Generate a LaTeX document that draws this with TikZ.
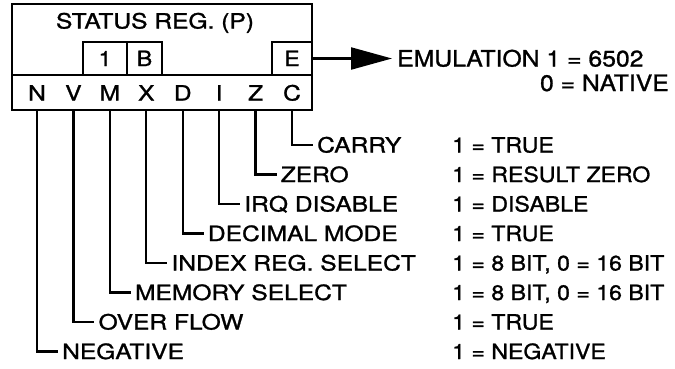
\documentclass[tikz,border=0pt]{standalone}
\usepackage{fontspec}
\setmainfont[FakeStretch=1.1,FakeBold=1.2]{TeX Gyre Heros}
\newfontfamily\labfont[FakeStretch=1.17,FakeBold=1.2]{TeX Gyre Heros}
\usetikzlibrary{arrows.meta}
\begin{document}
\begin{tikzpicture}[x=1pt,y=-1pt,
  boxline/.style={draw, line width=2.6pt},
  lead/.style={draw, line width=2.2pt},
  txt/.style={inner sep=0pt, font=\fontsize{21}{25}\selectfont, text height=15pt, text depth=0pt},
  lab/.style={txt, anchor=west},
  flab/.style={lab, font=\labfont\fontsize{21}{25}\selectfont},
  cell/.style={boxline, txt, minimum height=33pt},
]
\useasboundingbox (0,0) rectangle (675,368);
% outer register box
\draw[boxline] (12,4) rectangle (312,110);
\draw[boxline] (12,75) -- (312,75);
\coordinate (bot) at (0,110);
% title
\node[txt, font=\labfont\fontsize{21}{25}\selectfont] (title) at (155,21) {STATUS REG. (P)};
% upper cells
\node[cell, minimum width=44pt] (one) at (105,58.5) {1};
\node[cell, minimum width=35pt] (bb) at (144.5,58.5) {B};
\node[cell, minimum width=40pt] (ee) at (292,58.5) {E};
% bit letters
\foreach \n/\l [count=\i from 0] in {bN/N,bV/V,bM/M,bX/X,bD/D,bI/I,bZ/Z,bC/C}
  \node[txt, font=\labfont\fontsize{21}{25}\selectfont] (\n) at ({37+36.43*\i},93) {\l};
% emulation
\node[txt, anchor=west, font=\fontsize{22.5}{26}\selectfont, text height=16pt] (emu) at (397,58.5) {EMULATION 1 = 6502};
\node[txt, anchor=east, font=\fontsize{22.5}{26}\selectfont, text height=16pt] (nat) at (669,83) {0 = NATIVE};
\draw[lead, -{Triangle[length=41pt,width=22pt]}, shorten >=5pt] (ee.east) -- (emu.west);
% flag labels
\foreach \n/\t/\v [count=\k from 0] in {
  bC/CARRY/TRUE,
  bZ/ZERO/RESULT ZERO,
  bI/IRQ DISABLE/DISABLE,
  bD/DECIMAL MODE/TRUE,
  bX/INDEX REG. SELECT/{8 BIT, 0 = 16 BIT},
  bM/MEMORY SELECT/{8 BIT, 0 = 16 BIT},
  bV/OVER FLOW/TRUE,
  bN/NEGATIVE/NEGATIVE} {
  \path (\n |- bot) ++(25,{35+29.5*\k}) node[flab] (l\n) {\t};
  \node[lab] (v\n) at (452,{145+29.5*\k}) {1 = \v};
  \draw[lead] (\n |- bot) |- ([xshift=-4pt]l\n.west);
}
\end{tikzpicture}
\end{document}
